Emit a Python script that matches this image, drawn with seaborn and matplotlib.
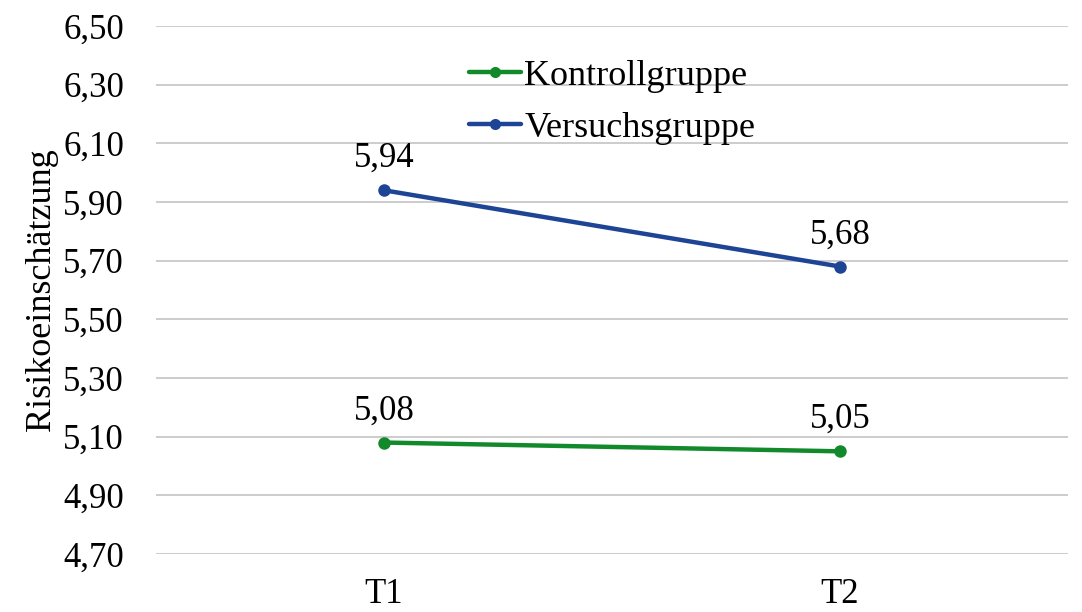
import numpy as np
import pandas as pd
import matplotlib
matplotlib.use("Agg")
import matplotlib.pyplot as plt
import seaborn as sns

# Daten
zeitpunkte = ["T1", "T2"]
kontrollgruppe = [5.08, 5.05]
versuchsgruppe = [5.94, 5.68]
gruppen = ["Kontrollgruppe", "Versuchsgruppe"]
farben = ["#128A2B", "#1E4496"]
y_ticks = [4.70, 4.90, 5.10, 5.30, 5.50, 5.70, 5.90, 6.10, 6.30, 6.50]

df = pd.DataFrame({
    "Zeitpunkt": zeitpunkte * 2,
    "Gruppe": [gruppen[0]] * 2 + [gruppen[1]] * 2,
    "Wert": kontrollgruppe + versuchsgruppe,
})

sns.set_theme(style="whitegrid")
plt.rcParams["font.family"] = ["Liberation Serif", "DejaVu Serif"]
plt.rcParams["text.color"] = "black"
plt.rcParams["xtick.color"] = "black"
plt.rcParams["ytick.color"] = "black"
plt.rcParams["axes.labelcolor"] = "black"

fig = plt.figure(figsize=(10.82, 6.12), dpi=100)
ax = fig.add_axes([156 / 1082, 1 - 554 / 612, (1068 - 156) / 1082, (554 - 26) / 612])

sns.lineplot(data=df, x="Zeitpunkt", y="Wert", hue="Gruppe", palette=farben,
             marker="o", markersize=9, markeredgewidth=0, linewidth=3.2,
             ax=ax, legend=False, sort=False)

fs = 25
ax.set_xlim(-0.5, 1.5)
ax.set_ylim(4.70, 6.50)
ax.set_yticks(y_ticks)
ax.set_yticklabels([f"{v:.2f}".replace(".", ",") for v in y_ticks], fontsize=fs)
ax.set_xticks([0, 1])
ax.set_xticklabels(zeitpunkte, fontsize=fs)
ax.tick_params(axis="y", pad=23, length=0)
ax.tick_params(axis="x", pad=17, length=0)
ax.set_xlabel("")
ax.set_ylabel("Risikoeinschätzung", fontsize=26, labelpad=4)
ax.grid(axis="y", color="#c8c8c8", linewidth=1.3)
ax.grid(axis="x", visible=False)
for s in ax.spines.values():
    s.set_visible(False)

# Wertbeschriftungen
for werte in (kontrollgruppe, versuchsgruppe):
    for i, v in enumerate(werte):
        ax.annotate(f"{v:.2f}".replace(".", ","), (i, v), xytext=(0, 11),
                    textcoords="offset points", ha="center", va="bottom",
                    fontsize=fs)

handles = [plt.Line2D([], [], color=c, linewidth=3.2, marker="o", markersize=8,
                      markeredgewidth=0) for c in farben]
fig.legend(handles, gruppen, loc="upper left", frameon=False, fontsize=26,
           bbox_to_anchor=(469 / 1082, 0.903), borderpad=0, handlelength=1.45,
           handletextpad=0.08, labelspacing=0.52, borderaxespad=0)

fig.savefig("out.png", dpi=100)
